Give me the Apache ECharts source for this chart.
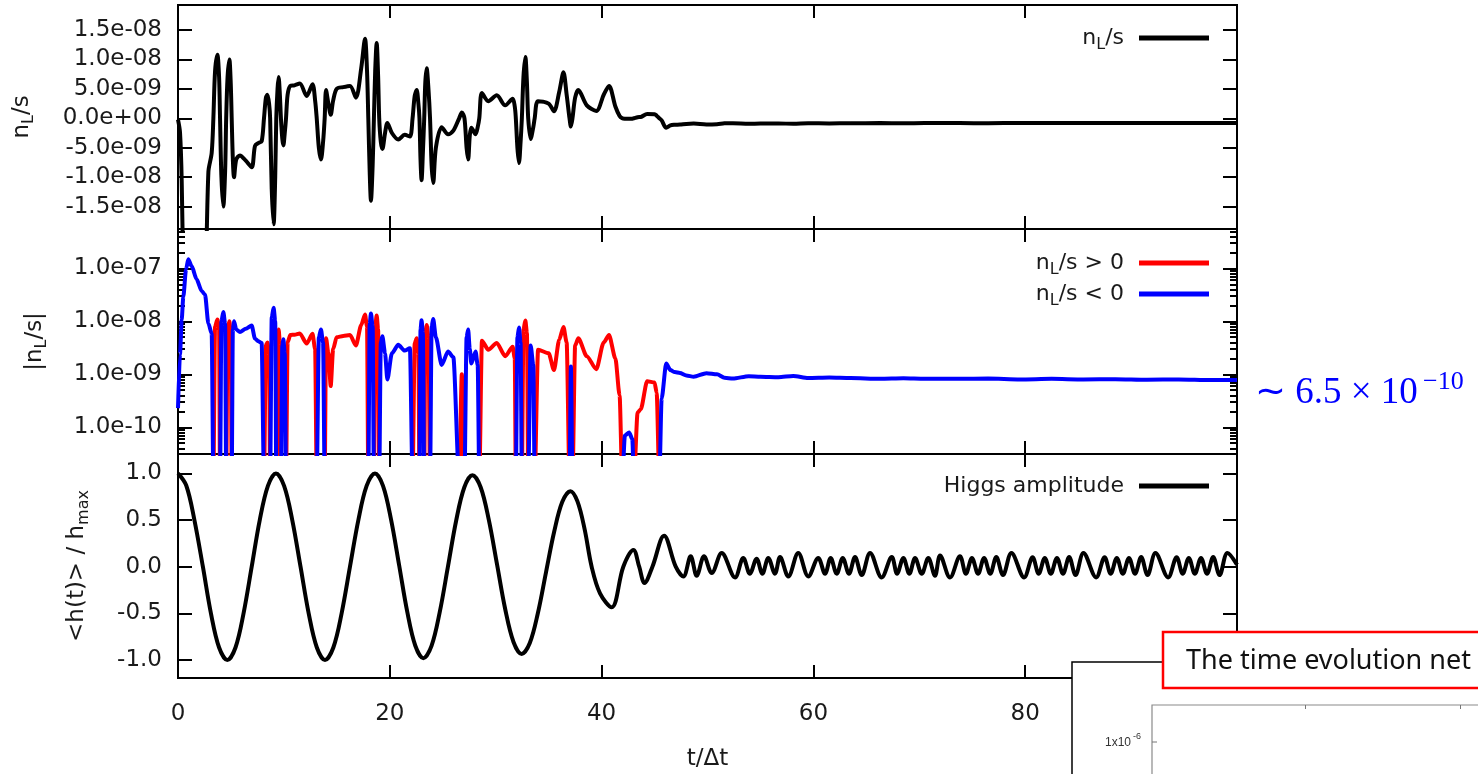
<!DOCTYPE html>
<html><head><meta charset="utf-8">
<script src="https://cdn.jsdelivr.net/npm/echarts@6/dist/echarts.min.js"></script>
<style>html,body{margin:0;padding:0;background:#fff}#c{width:1478px;height:774px}</style>
</head><body><div id="c"></div>
<script>
// ---------------- data ----------------
// n_L/s in units of 1e-9, [t/Δt, value]
const nL = [
[0,-0.23],[0.19,-2.4],[0.35,-10.7],[0.5,-29],[0.76,-96],[0.97,-148],[1.29,-110],[1.76,-62],[2.24,-37],[2.55,-32],
[2.87,-9.1],[3.18,-5.9],[3.34,0],[3.5,8],[3.72,10.8],[3.88,7],[3.97,0],[4.1,-10],[4.28,-15],[4.45,-9],
[4.55,0],[4.68,7],[4.85,10],[4.98,6],[5.07,0],[5.18,-7],[5.29,-10],[5.5,-7],[5.85,-6.3],[6.4,-7.2],
[6.96,-8.3],[7.27,-4.7],[7.58,-4.2],[7.9,-3.9],[8.12,0],[8.3,3.5],[8.44,4.0],[8.6,2.5],[8.7,0],[8.85,-12],
[9.03,-18],[9.18,-10],[9.28,0],[9.4,5],[9.5,7.0],[9.62,4],[9.72,0],[9.85,-3.5],[9.95,-4.6],[10.08,-2.5],
[10.2,0],[10.35,4],[10.6,5.5],[11.0,5.6],[11.5,5.9],[12.15,3.8],[12.7,5.8],[12.95,3],[13.1,0],[13.3,-5],
[13.5,-7.0],[13.7,-4],[13.85,0],[13.98,4.8],[14.2,2.5],[14.42,0.6],[14.65,3.0],[14.98,5.0],[15.6,5.3],[16.24,5.5],
[16.8,3.5],[17.3,8.5],[17.66,13.5],[17.85,8],[17.97,0],[18.1,-9],[18.22,-14],[18.38,-8],[18.5,0],[18.62,8],
[18.76,12.8],[18.9,7],[19.0,0],[19.15,-4],[19.3,-5.2],[19.55,-2.5],[19.77,-0.8],[20.2,-2.5],[20.8,-3.6],[21.4,-2.8],
[21.9,-3.1],[22.15,0],[22.35,3.8],[22.54,4.8],[22.7,2.5],[22.8,0],[22.9,-7],[23.0,-10.5],[23.12,-6],[23.25,0],
[23.35,6],[23.48,8.5],[23.65,5],[23.8,0],[23.95,-8],[24.1,-11],[24.35,-5],[24.9,-1.5],[25.5,-2.7],[26.0,-2.1],
[26.55,0],[26.8,1.0],[27.05,0],[27.25,-5],[27.4,-7.0],[27.55,-3],[27.7,-1.6],[28.1,-2.7],[28.3,-1.5],[28.45,0],
[28.7,4.3],[29.3,2.9],[30.1,3.9],[30.9,2.2],[31.6,3.3],[31.8,2],[31.9,0],[32.05,-5],[32.2,-7.6],[32.35,-4],
[32.47,0],[32.62,7],[32.8,10.4],[32.95,6],[33.07,0],[33.3,-3.5],[33.55,-1.5],[33.68,0],[34.0,2.9],[35.0,2.5],
[35.5,1.2],[36.0,4.5],[36.4,7.8],[36.7,4],[36.97,0],[37.1,-1.4],[37.25,0],[37.5,3.5],[37.8,4.8],[38.6,2.2],
[39.5,1.25],[40.2,4.0],[40.7,5.5],[41.3,2.0],[41.7,0.4],[41.95,0],[42.2,-0.07],[42.6,-0.08],[42.9,-0.06],[43.05,0],
[43.4,0.19],[43.7,0.22],[44.3,0.74],[45.0,0.7],[45.2,0.45],[45.45,0],[45.67,-0.35],[46.1,-1.6],[46.5,-1.2],[46.9,-1.1],
[47.4,-1.06],[48.0,-0.95],[48.7,-0.9],[49.9,-1.05],[50.9,-1.0],[51.6,-0.86],[52.4,-0.83],[53.9,-0.92],[55.0,-0.9],[56.7,-0.88],
[58.1,-0.93],[59.5,-0.85],[61.5,-0.87],[63.5,-0.85],[66.3,-0.82],[68.5,-0.84],[70.5,-0.82],[73.8,-0.82],[76.5,-0.83],[79.5,-0.8],
[82.5,-0.82],[85.5,-0.8],[88.5,-0.81],[91.5,-0.79],[94.5,-0.8],[97.5,-0.78],[100,-0.78]
];
// <h(t)>/h_max, [t/Δt, value]
const higgs = [
[0,1.0],[0.78,0.87],[1.55,0.5],[2.35,0],[3.11,-0.5],[3.88,-0.866],[4.66,-1.0],
[5.43,-0.866],[6.19,-0.5],[6.96,0],[7.72,0.5],[8.49,0.866],[9.25,1.0],
[10.02,0.866],[10.79,0.5],[11.57,0],[12.34,-0.5],[13.11,-0.866],[13.88,-1.0],
[14.67,-0.866],[15.45,-0.5],[16.24,0],[17.03,0.5],[17.81,0.866],[18.6,1.0],
[19.36,0.867],[20.12,0.505],[20.89,0.01],[21.65,-0.485],[22.41,-0.847],[23.17,-0.98],
[23.94,-0.849],[24.71,-0.49],[25.49,0],[26.26,0.49],[27.03,0.849],[27.8,0.98],
[28.58,0.852],[29.35,0.501],[30.13,0.022],[30.9,-0.456],[31.68,-0.807],[32.45,-0.935],
[33.22,-0.818],[33.98,-0.499],[34.75,-0.06],[35.52,0.374],[36.28,0.693],[37.05,0.81],
[37.72,0.7],[38.4,0.4],[39.06,0],[39.85,-0.285],[40.95,-0.435],
[42.05,0],[43.0,0.18],[43.55,0],[44.05,-0.175],[44.8,0],[45.9,0.333],[47.0,0],[47.72,-0.104],[48.41,0.111],
[48.98,-0.097],[49.67,0.111],[50.4,-0.068],[51.34,0.147],[52.6,-0.115],[53.38,0.093],[54.0,-0.075],[54.64,0.086],[55.18,-0.075],[55.74,0.093],
[56.37,-0.075],[56.85,0.104],[57.63,-0.104],[58.57,0.147],[59.52,-0.104],[60.46,0.093],[61.1,-0.075],[61.63,0.093],[62.2,-0.075],[62.77,0.093],
[63.36,-0.075],[63.93,0.104],[64.56,-0.09],[65.35,0.147],[66.45,-0.115],[67.4,0.104],[67.9,-0.075],[68.5,0.093],[69.06,-0.075],[69.6,0.093],
[70.23,-0.075],[70.85,0.093],[71.48,-0.097],[71.96,0.12],[72.9,-0.115],[73.84,0.111],[74.4,-0.075],[74.97,0.093],[75.55,-0.075],[76.12,0.093],
[76.7,-0.075],[77.27,0.104],[77.9,-0.09],[78.7,0.147],[79.9,-0.115],[80.7,0.1],[81.27,-0.075],[81.85,0.093],[82.42,-0.075],[83.0,0.093],
[83.57,-0.075],[84.15,0.104],[84.75,-0.09],[85.5,0.147],[86.7,-0.115],[87.5,0.1],[88.07,-0.075],[88.65,0.093],[89.22,-0.075],[89.8,0.093],
[90.37,-0.075],[90.95,0.104],[91.55,-0.09],[92.3,0.147],[93.5,-0.115],[94.3,0.1],[94.87,-0.075],[95.45,0.093],[96.02,-0.075],[96.6,0.093],
[97.17,-0.075],[97.75,0.104],[98.35,-0.09],[99.1,0.147],[100,0.02]
];
// ticks
const xTicks = [0,20,40,60,80,100];
const topTicks = [-1.5e-8,-1.0e-8,-5e-9,0,5e-9,1.0e-8,1.5e-8];
const topTickLabels = ['-1.5e-08','-1.0e-08','-5.0e-09','0.0e+00','5.0e-09','1.0e-08','1.5e-08'];
const midTicks = [1e-10,1e-9,1e-8,1e-7];
const midTickLabels = ['1.0e-10','1.0e-09','1.0e-08','1.0e-07'];
const midMinorTicks = [4e-11,5e-11,6e-11,7e-11,8e-11,9e-11,2e-10,3e-10,4e-10,5e-10,6e-10,7e-10,8e-10,9e-10,
  2e-9,3e-9,4e-9,5e-9,6e-9,7e-9,8e-9,9e-9,2e-8,3e-8,4e-8,5e-8,6e-8,7e-8,8e-8,9e-8,2e-7,3e-7,4e-7,5e-7];
const botTicks = [-1,-0.5,0,0.5,1];
const botTickLabels = ['-1.0','-0.5','0.0','0.5','1.0'];

// ---------------- chart ----------------
const FONT = 'DejaVu Sans';
const TXT = '#1a1a1a';
const FS = 23;
const TINY = 1e-11;
const scaleNL = 1e-9;
const topData = nL.map(p => [p[0], p[1]*scaleNL]);
const posData = nL.map(p => [p[0], p[1] > 0 ? p[1]*scaleNL : TINY]);
const negData = nL.map(p => [p[0], p[1] < 0 ? -p[1]*scaleNL : TINY]);

function lookup(vals, labels) {
  return function (v) {
    for (let i = 0; i < vals.length; i++) {
      if (Math.abs(vals[i] - v) <= Math.abs(vals[i]) * 1e-6 + 1e-30) return labels[i];
    }
    return '';
  };
}
const richName23 = {
  a: {fontFamily: FONT, fontSize: 23, color: TXT, lineHeight: 30, verticalAlign: 'middle'},
  s: {fontFamily: FONT, fontSize: 16, color: TXT, lineHeight: 12, verticalAlign: 'bottom'}
};
const richLeg = {
  a: {fontFamily: FONT, fontSize: 22, color: TXT, lineHeight: 30, verticalAlign: 'middle'},
  s: {fontFamily: FONT, fontSize: 16, color: TXT, lineHeight: 12, verticalAlign: 'bottom'}
};
function richName(n) {
  if (n.indexOf('nL') === 0) return '{a|n}{s|L}{a|' + n.slice(2) + '}';
  return '{a|' + n + '}';
}
const tickStyle = {color: '#000', width: 2};
function xa(g, pos, showLabel) {
  const o = {
    type: 'value', gridIndex: g, position: pos, min: 0, max: 100, interval: 20,
    axisLine: {show: false, onZero: false}, splitLine: {show: false},
    axisTick: {show: true, inside: true, length: 13, lineStyle: tickStyle},
    axisLabel: {show: showLabel, margin: 25, fontFamily: FONT, fontSize: FS, color: TXT}
  };
  if (showLabel) {
    o.name = 't/Δt'; o.nameLocation = 'middle'; o.nameGap = 70;
    o.nameTextStyle = {fontFamily: FONT, fontSize: FS, color: TXT};
  }
  return o;
}
function ya(g, pos, cfg) {
  return Object.assign({
    gridIndex: g, position: pos,
    axisLine: {show: false, onZero: false}, splitLine: {show: false}
  }, cfg);
}
const labelBase = {margin: 16, fontFamily: FONT, fontSize: FS, color: TXT};
const option = {
  animation: false,
  backgroundColor: '#fff',
  grid: [
    {left: 178, top: 5, width: 1059, height: 224, show: true, borderColor: '#000', borderWidth: 2},
    {left: 178, top: 229, width: 1059, height: 225, show: true, borderColor: '#000', borderWidth: 2},
    {left: 178, top: 454, width: 1059, height: 224, show: true, borderColor: '#000', borderWidth: 2}
  ],
  xAxis: [xa(0,'bottom',false), xa(0,'top',false), xa(1,'bottom',false), xa(1,'top',false), xa(2,'bottom',true), xa(2,'top',false)],
  yAxis: [
    ya(0,'left',{type:'value', min:-1.88e-8, max:1.924e-8,
      axisTick:{inside:true, length:14, customValues: topTicks, lineStyle: tickStyle},
      axisLabel:Object.assign({customValues: topTicks, formatter: lookup(topTicks, topTickLabels)}, labelBase),
      name:'{a|n}{s|L}{a|/s}', nameLocation:'middle', nameRotate:90, nameGap:141, nameTextStyle:{rich: richName23}}),
    ya(0,'right',{type:'value', min:-1.88e-8, max:1.924e-8,
      axisTick:{inside:true, length:14, customValues: topTicks, lineStyle: tickStyle}, axisLabel:{show:false}}),
    ya(1,'left',{type:'log', logBase:10, min:3.13e-11, max:5.52e-7,
      axisTick:{inside:true, length:14, customValues: midTicks, lineStyle: tickStyle},
      axisLabel:Object.assign({customValues: midTicks, formatter: lookup(midTicks, midTickLabels)}, labelBase),
      name:'{a||n}{s|L}{a|/s|}', nameLocation:'middle', nameRotate:90, nameGap:128, nameTextStyle:{rich: richName23}}),
    ya(1,'left',{type:'log', logBase:10, min:3.13e-11, max:5.52e-7,
      axisTick:{inside:true, length:7, customValues: midMinorTicks, lineStyle: tickStyle}, axisLabel:{show:false}}),
    ya(1,'right',{type:'log', logBase:10, min:3.13e-11, max:5.52e-7,
      axisTick:{inside:true, length:14, customValues: midTicks, lineStyle: tickStyle}, axisLabel:{show:false}}),
    ya(1,'right',{type:'log', logBase:10, min:3.13e-11, max:5.52e-7,
      axisTick:{inside:true, length:7, customValues: midMinorTicks, lineStyle: tickStyle}, axisLabel:{show:false}}),
    ya(2,'left',{type:'value', min:-1.193, max:1.208,
      axisTick:{inside:true, length:14, customValues: botTicks, lineStyle: tickStyle},
      axisLabel:Object.assign({customValues: botTicks, formatter: lookup(botTicks, botTickLabels)}, labelBase),
      name:'{a|<h(t)> / h}{s|max}', nameLocation:'middle', nameRotate:90, nameGap:86, nameTextStyle:{rich: richName23}}),
    ya(2,'right',{type:'value', min:-1.193, max:1.208,
      axisTick:{inside:true, length:14, customValues: botTicks, lineStyle: tickStyle}, axisLabel:{show:false}})
  ],
  legend: [
    {data:['nL/s'], right:269, top:27},
    {data:['nL/s > 0','nL/s < 0'], right:269, top:252, itemGap:5},
    {data:['Higgs amplitude'], right:269, top:475}
  ].map(l => Object.assign({
    orient:'vertical', align:'right', icon:'rect', itemWidth:70, itemHeight:5, padding:0,
    selectedMode:false, formatter: richName,
    textStyle:{fontFamily:FONT, fontSize:22, color:TXT, padding:[0,10,0,0], rich: richLeg}
  }, l)),
  series: [
    {type:'line', name:'nL/s', xAxisIndex:0, yAxisIndex:0, data: topData, symbol:'none', smooth:0.3,
      lineStyle:{color:'#000', width:4}, itemStyle:{color:'#000'}, clip:true},
    {type:'line', name:'nL/s > 0', xAxisIndex:2, yAxisIndex:2, data: posData, symbol:'none', smooth:0.25, smoothMonotone:'x',
      lineStyle:{color:'#ff0000', width:4}, itemStyle:{color:'#ff0000'}, clip:true},
    {type:'line', name:'nL/s < 0', xAxisIndex:2, yAxisIndex:2, data: negData, symbol:'none', smooth:0.25, smoothMonotone:'x',
      lineStyle:{color:'#0000ff', width:4}, itemStyle:{color:'#0000ff'}, clip:true},
    {type:'line', name:'Higgs amplitude', xAxisIndex:4, yAxisIndex:6, data: higgs, symbol:'none', smooth:0.35,
      lineStyle:{color:'#000', width:4}, itemStyle:{color:'#000'}, clip:true}
  ],
  graphic: [
    {type:'text', x:1255, y:393, z:100, style:{text:'∼ 6.5 × 10', fontFamily:'Liberation Serif', fontSize:37, fill:'#0000ff', align:'left', verticalAlign:'middle'}},
    {type:'text', x:1423, y:382, z:100, style:{text:'−10', fontFamily:'Liberation Serif', fontSize:26, fill:'#0000ff', align:'left', verticalAlign:'middle'}},
    {type:'rect', z:100, shape:{x:1072, y:662, width:430, height:130}, style:{fill:'#fff', stroke:'#000', lineWidth:1.5}},
    {type:'polyline', z:101, shape:{points:[[1152,790],[1152,705],[1490,705]]}, style:{stroke:'#8a8a8a', lineWidth:1.2, fill:null}},
    {type:'line', z:101, shape:{x1:1305.5, y1:705, x2:1305.5, y2:709}, style:{stroke:'#777', lineWidth:1}},
    {type:'line', z:101, shape:{x1:1460.5, y1:705, x2:1460.5, y2:709}, style:{stroke:'#777', lineWidth:1}},
    {type:'line', z:101, shape:{x1:1152, y1:742, x2:1157, y2:742}, style:{stroke:'#777', lineWidth:1}},
    {type:'text', z:101, x:1131, y:743, style:{text:'1x10', fontFamily:'Liberation Sans', fontSize:12, fill:'#333', align:'right', verticalAlign:'middle'}},
    {type:'text', z:101, x:1133, y:737, style:{text:'-6', fontFamily:'Liberation Sans', fontSize:9, fill:'#333', align:'left', verticalAlign:'middle'}},
    {type:'rect', z:102, shape:{x:1163, y:632, width:340, height:56}, style:{fill:'#fff', stroke:'#ff0000', lineWidth:2.5}},
    {type:'text', z:103, x:1186, y:661, style:{text:'The time evolution net', fontFamily:'Noto Sans', fontSize:27, fill:'#111', align:'left', verticalAlign:'middle'}}
  ]
};
const chart = echarts.init(document.getElementById('c'));
chart.setOption(option);
</script></body></html>
